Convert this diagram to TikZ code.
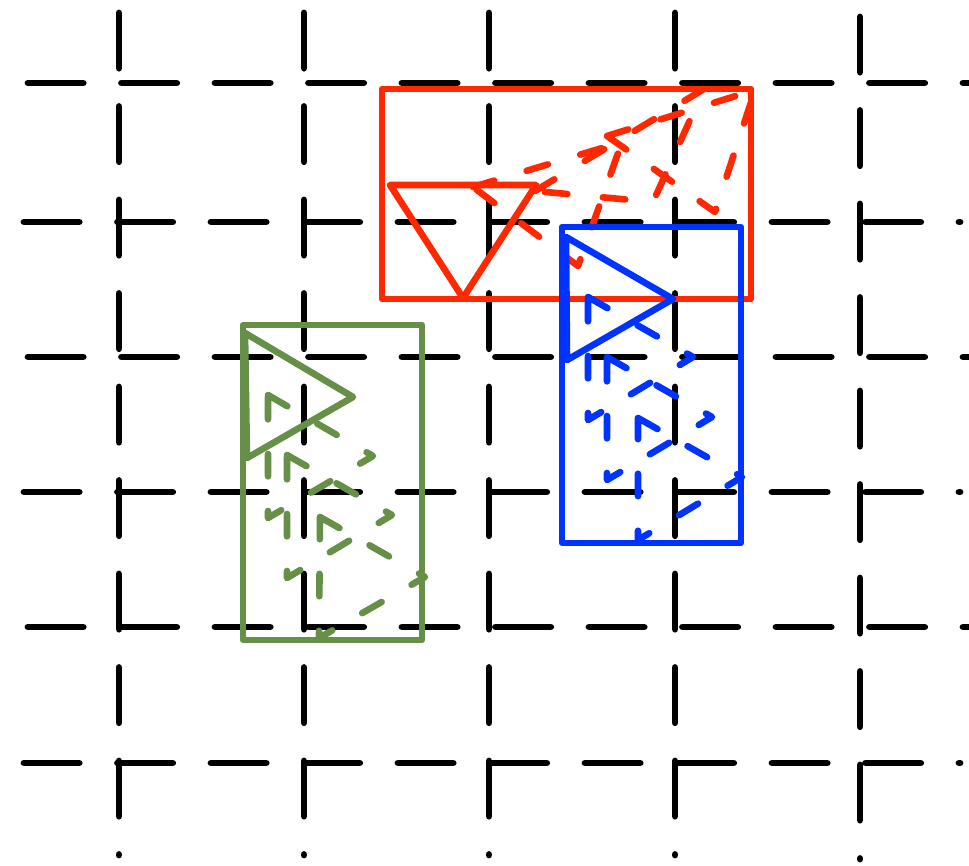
\documentclass[tikz,border=0pt]{standalone}
\definecolor{redc}{RGB}{255,40,0}
\definecolor{bluec}{RGB}{0,51,255}
\definecolor{greenc}{RGB}{102,143,72}
\begin{document}
\begin{tikzpicture}[x=0.5pt,y=-0.5pt,
  gridline/.style={line width=3.4pt,line cap=round,dash pattern=on 27.6pt off 19.15pt},
  solidcol/.style={line width=3.3pt,line cap=round,line join=round},
  dashcol/.style={line width=3.3pt,line cap=round,line join=round,dash pattern=on 11.2pt off 17.3pt},
  dashcolA/.style={line width=3.3pt,line cap=round,line join=round,dash pattern=on 11.1pt off 16.9pt},
  dashcolB/.style={line width=3.3pt,line cap=round,line join=round,dash pattern=on 11.3pt off 17.8pt}]
\useasboundingbox (0,0) rectangle (969,866);
% grid
\foreach \x in {119,304,489,675} \draw[gridline] (\x,13) -- (\x,855);
\draw[gridline] (860,17) -- (860,859);
\foreach \y in {83,357,627} \draw[gridline] (28,\y) -- (972,\y);
\foreach \y in {222,492,763} \draw[gridline] (24,\y) -- (960,\y);
% red group
\draw[redc,solidcol] (382,89) rectangle (751,299);
\draw[redc,solidcol] (390,185) -- (536,185) -- (463,298) -- cycle;
\draw[redc,dashcolA] (473,187) -- (622,142) -- (578,266) -- cycle;
\draw[redc,dashcolB] (535,191) -- (704,89) -- (653,202) -- cycle;
\draw[redc,dashcolA] (607,136) -- (755,90) -- (715,212) -- cycle;
% green group
\draw[greenc,solidcol] (243,325) rectangle (422,640);
\draw[greenc,solidcol] (245,333) -- (353,397) -- (247,458) -- cycle;
\draw[greenc,dashcol] (268,395) -- (373,456) -- (268,518) -- cycle;
\draw[greenc,dashcol] (287,455) -- (392,515) -- (287,578) -- cycle;
\draw[greenc,dashcol] (320,517) -- (425,577) -- (319,638) -- cycle;
% blue group
\draw[bluec,solidcol] (562,227) rectangle (741,543);
\draw[bluec,solidcol] (566,237) -- (673,299) -- (567,360) -- cycle;
\draw[bluec,dashcol] (588,297) -- (693,357) -- (588,420) -- cycle;
\draw[bluec,dashcol] (607,357) -- (712,417) -- (607,480) -- cycle;
\draw[bluec,dashcol] (638,418) -- (742,477) -- (638,540) -- cycle;
\end{tikzpicture}
\end{document}
